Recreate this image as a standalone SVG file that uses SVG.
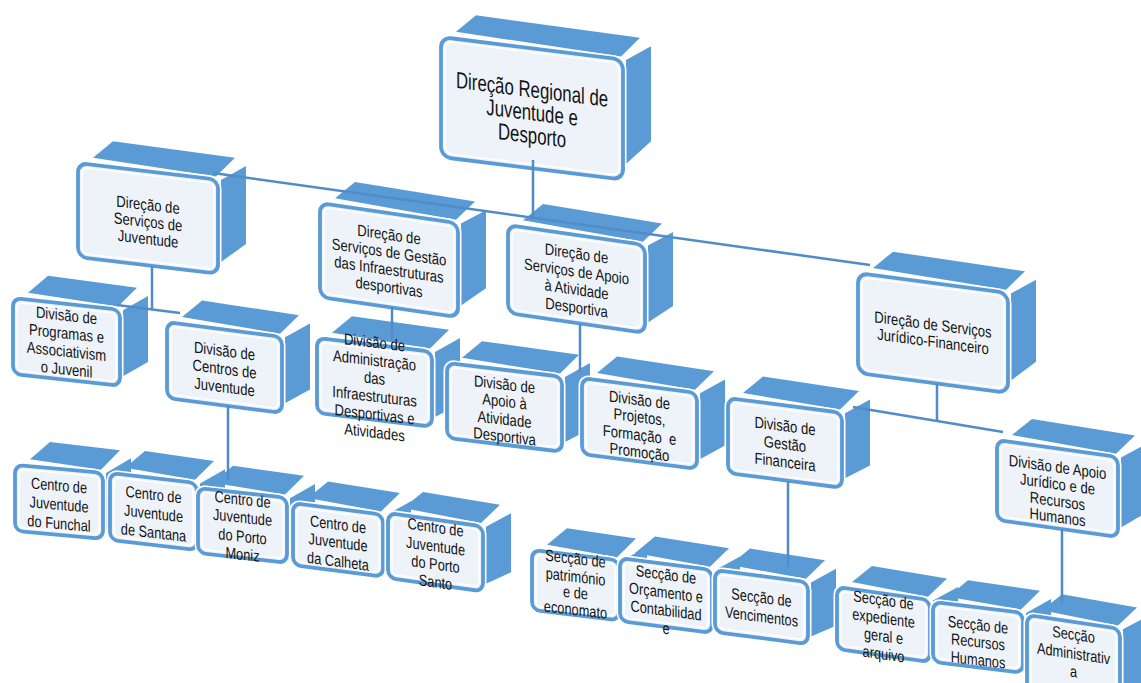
<svg xmlns="http://www.w3.org/2000/svg" width="1141" height="683" viewBox="0 0 1141 683">
<style>
.side{fill:#5b9bd5}
.halo{fill:#fff;stroke:#fff;stroke-width:7}
.face{fill:#eef3fa;stroke:#5b9bd5;stroke-width:3.8}
.inner{fill:none;stroke:#fff;stroke-width:1.5}
.t{font-family:"Liberation Sans",Arial,sans-serif;font-size:16px;fill:#141414;text-anchor:middle}
.big{font-size:23px}
.conn{stroke:#4f8cc8;stroke-width:2.5;fill:none}
</style>
<rect width="1141" height="683" fill="#fff"/>

<g id="n-root" transform="translate(441 37) skewY(7.1)">
<path class="side" d="M15,-7L35,-26L199,-24L180,-3Z"/><path class="side" d="M185,0L210,-17L210,78L185,104Z"/>
<rect class="halo" width="182" height="120" rx="10"/><rect class="face" width="182" height="120" rx="10"/><rect class="inner" x="4" y="4" width="174" height="112" rx="7"/>
<g transform="translate(91 0) scale(.73 1)"><text class="t big"><tspan x="0" y="49">Direção Regional de</tspan><tspan x="0" y="72">Juventude e</tspan><tspan x="0" y="95">Desporto</tspan></text></g>
</g>

<g id="n-dsj" transform="translate(78 163) skewY(6.8)">
<path class="side" d="M15,-7L35,-26L157,-24L138,-3Z"/><path class="side" d="M143,0L168,-17L168,61L143,82Z"/>
<rect class="halo" width="140" height="94" rx="9"/><rect class="face" width="140" height="94" rx="9"/><rect class="inner" x="4" y="4" width="132" height="86" rx="6"/>
<g transform="translate(70 0) scale(.82 1)"><text class="t"><tspan x="0" y="39">Direção de</tspan><tspan x="0" y="56">Serviços de</tspan><tspan x="0" y="73">Juventude</tspan></text></g>
</g>

<g id="n-dsg" transform="translate(320 203) skewY(8.3)">
<path class="side" d="M15,-7L35,-26L155,-24L136,-3Z"/><path class="side" d="M141,0L166,-17L166,61L141,82Z"/>
<rect class="halo" width="138" height="94" rx="9"/><rect class="face" width="138" height="94" rx="9"/><rect class="inner" x="4" y="4" width="130" height="86" rx="6"/>
<g transform="translate(69 0) scale(.82 1)"><text class="t"><tspan x="0" y="27">Direção de</tspan><tspan x="0" y="44.5">Serviços de Gestão</tspan><tspan x="0" y="62">das Infraestruturas</tspan><tspan x="0" y="79.5">desportivas</tspan></text></g>
</g>

<g id="n-dsa" transform="translate(508 225) skewY(8.3)">
<path class="side" d="M15,-7L35,-26L154,-24L135,-3Z"/><path class="side" d="M140,0L165,-17L165,57L140,77Z"/>
<rect class="halo" width="137" height="88" rx="9"/><rect class="face" width="137" height="88" rx="9"/><rect class="inner" x="4" y="4" width="129" height="80" rx="6"/>
<g transform="translate(68.5 0) scale(.82 1)"><text class="t"><tspan x="0" y="24">Direção de</tspan><tspan x="0" y="42">Serviços de Apoio</tspan><tspan x="0" y="60">à Atividade</tspan><tspan x="0" y="78">Desportiva</tspan></text></g>
</g>

<g id="n-dsjf" transform="translate(858 273) skewY(7.6)">
<path class="side" d="M15,-7L35,-26L167,-24L148,-3Z"/><path class="side" d="M153,0L178,-17L178,65L153,87Z"/>
<rect class="halo" width="150" height="100" rx="10"/><rect class="face" width="150" height="100" rx="10"/><rect class="inner" x="4" y="4" width="142" height="92" rx="7"/>
<g transform="translate(75 0) scale(.82 1)"><text class="t"><tspan x="0" y="47">Direção de Serviços</tspan><tspan x="0" y="64">Jurídico-Financeiro</tspan></text></g>
</g>

<g id="n-prog" transform="translate(13 298) skewY(6.3)">
<path class="side" d="M15,-7L35,-26L124,-24L105,-3Z"/><path class="side" d="M110,0L135,-17L135,49L110,66Z"/>
<rect class="halo" width="107" height="76" rx="8"/><rect class="face" width="107" height="76" rx="8"/><rect class="inner" x="4" y="4" width="99" height="68" rx="5"/>
<g transform="translate(53.5 0) scale(.82 1)"><text class="t"><tspan x="0" y="17">Divisão de</tspan><tspan x="0" y="35">Programas e</tspan><tspan x="0" y="53">Associativism</tspan><tspan x="0" y="71">o Juvenil</tspan></text></g>
</g>

<g id="n-divcentros" transform="translate(167 322) skewY(7.4)">
<path class="side" d="M15,-7L35,-26L132,-24L113,-3Z"/><path class="side" d="M118,0L143,-17L143,49L118,66Z"/>
<rect class="halo" width="115" height="76" rx="8"/><rect class="face" width="115" height="76" rx="8"/><rect class="inner" x="4" y="4" width="107" height="68" rx="5"/>
<g transform="translate(57.5 0) scale(.82 1)"><text class="t"><tspan x="0" y="27">Divisão de</tspan><tspan x="0" y="45">Centros de</tspan><tspan x="0" y="63">Juventude</tspan></text></g>
</g>

<g id="n-adm" transform="translate(317 338) skewY(6.8)">
<path class="side" d="M15,-7L35,-26L132,-24L113,-3Z"/><path class="side" d="M118,0L143,-17L143,49L118,65Z"/>
<rect class="halo" width="115" height="75" rx="8"/><rect class="face" width="115" height="75" rx="8"/><rect class="inner" x="4" y="4" width="107" height="67" rx="5"/>
<g transform="translate(57.5 0) scale(.82 1)"><text class="t"><tspan x="0" y="3">Divisão de</tspan><tspan x="0" y="21">Administração</tspan><tspan x="0" y="39">das</tspan><tspan x="0" y="57">Infraestruturas</tspan><tspan x="0" y="75">Desportivas e</tspan><tspan x="0" y="93">Atividades</tspan></text></g>
</g>

<g id="n-apoiodiv" transform="translate(447 363) skewY(6.8)">
<path class="side" d="M15,-7L35,-26L132,-24L113,-3Z"/><path class="side" d="M118,0L143,-17L143,49L118,65Z"/>
<rect class="halo" width="115" height="75" rx="8"/><rect class="face" width="115" height="75" rx="8"/><rect class="inner" x="4" y="4" width="107" height="67" rx="5"/>
<g transform="translate(57.5 0) scale(.82 1)"><text class="t"><tspan x="0" y="20">Divisão de</tspan><tspan x="0" y="37">Apoio à</tspan><tspan x="0" y="55">Atividade</tspan><tspan x="0" y="72">Desportiva</tspan></text></g>
</g>

<g id="n-proj" transform="translate(582 378) skewY(7.4)">
<path class="side" d="M15,-7L35,-26L132,-24L113,-3Z"/><path class="side" d="M118,0L143,-17L143,49L118,66Z"/>
<rect class="halo" width="115" height="76" rx="8"/><rect class="face" width="115" height="76" rx="8"/><rect class="inner" x="4" y="4" width="107" height="68" rx="5"/>
<g transform="translate(57.5 0) scale(.82 1)"><text class="t"><tspan x="0" y="20">Divisão de</tspan><tspan x="0" y="37">Projetos,</tspan><tspan x="0" y="55">Formação&#160; e</tspan><tspan x="0" y="72">Promoção</tspan></text></g>
</g>

<g id="n-gestfin" transform="translate(728 398) skewY(7.4)">
<path class="side" d="M15,-7L35,-26L131,-24L112,-3Z"/><path class="side" d="M117,0L142,-17L142,49L117,65Z"/>
<rect class="halo" width="114" height="75" rx="8"/><rect class="face" width="114" height="75" rx="8"/><rect class="inner" x="4" y="4" width="106" height="67" rx="5"/>
<g transform="translate(57 0) scale(.82 1)"><text class="t"><tspan x="0" y="26">Divisão de</tspan><tspan x="0" y="44">Gestão</tspan><tspan x="0" y="62">Financeira</tspan></text></g>
</g>

<g id="n-apoiojur" transform="translate(997 440) skewY(8)">
<path class="side" d="M15,-7L35,-26L138,-24L119,-3Z"/><path class="side" d="M124,0L149,-17L149,52L124,70Z"/>
<rect class="halo" width="121" height="80" rx="8"/><rect class="face" width="121" height="80" rx="8"/><rect class="inner" x="4" y="4" width="113" height="72" rx="5"/>
<g transform="translate(60.5 0) scale(.82 1)"><text class="t"><tspan x="0" y="24">Divisão de Apoio</tspan><tspan x="0" y="41">Jurídico e de</tspan><tspan x="0" y="58">Recursos</tspan><tspan x="0" y="74">Humanos</tspan></text></g>
</g>

<g id="n-funchal" transform="translate(15 465) skewY(5.1)">
<path class="side" d="M15,-7L35,-26L105,-24L86,-3Z"/><path class="side" d="M91,0L116,-17L116,43L91,57Z"/>
<rect class="halo" width="88" height="66" rx="8"/><rect class="face" width="88" height="66" rx="8"/><rect class="inner" x="4" y="4" width="80" height="58" rx="5"/>
<g transform="translate(44 0) scale(.8 1)"><text class="t"><tspan x="0" y="22">Centro de</tspan><tspan x="0" y="41">Juventude</tspan><tspan x="0" y="60">do Funchal</tspan></text></g>
</g>

<g id="n-santana" transform="translate(110 473) skewY(6.6)">
<path class="side" d="M15,-7L35,-26L104,-24L85,-3Z"/><path class="side" d="M90,0L115,-17L115,44L90,58Z"/>
<rect class="halo" width="87" height="67" rx="8"/><rect class="face" width="87" height="67" rx="8"/><rect class="inner" x="4" y="4" width="79" height="59" rx="5"/>
<g transform="translate(43.5 0) scale(.8 1)"><text class="t"><tspan x="0" y="22">Centro de</tspan><tspan x="0" y="41">Juventude</tspan><tspan x="0" y="60">de Santana</tspan></text></g>
</g>

<g id="n-moniz" transform="translate(198 488) skewY(6.3)">
<path class="side" d="M15,-7L35,-26L106,-24L87,-3Z"/><path class="side" d="M92,0L117,-17L117,42L92,57Z"/>
<rect class="halo" width="89" height="65" rx="8"/><rect class="face" width="89" height="65" rx="8"/><rect class="inner" x="4" y="4" width="81" height="57" rx="5"/>
<g transform="translate(44.5 0) scale(.8 1)"><text class="t"><tspan x="0" y="12">Centro de</tspan><tspan x="0" y="30">Juventude</tspan><tspan x="0" y="49">do Porto</tspan><tspan x="0" y="67">Moniz</tspan></text></g>
</g>

<g id="n-calheta" transform="translate(293 503) skewY(7.4)">
<path class="side" d="M15,-7L35,-26L107,-24L88,-3Z"/><path class="side" d="M93,0L118,-17L118,40L93,54Z"/>
<rect class="halo" width="90" height="62" rx="8"/><rect class="face" width="90" height="62" rx="8"/><rect class="inner" x="4" y="4" width="82" height="54" rx="5"/>
<g transform="translate(45 0) scale(.8 1)"><text class="t"><tspan x="0" y="21">Centro de</tspan><tspan x="0" y="39">Juventude</tspan><tspan x="0" y="58">da Calheta</tspan></text></g>
</g>

<g id="n-santo" transform="translate(388 513) skewY(8)">
<path class="side" d="M15,-7L35,-26L112,-24L93,-3Z"/><path class="side" d="M98,0L123,-17L123,42L98,57Z"/>
<rect class="halo" width="95" height="65" rx="8"/><rect class="face" width="95" height="65" rx="8"/><rect class="inner" x="4" y="4" width="87" height="57" rx="5"/>
<g transform="translate(47.5 0) scale(.8 1)"><text class="t"><tspan x="0" y="13">Centro de</tspan><tspan x="0" y="32">Juventude</tspan><tspan x="0" y="50">do Porto</tspan><tspan x="0" y="68">Santo</tspan></text></g>
</g>

<g id="n-patr" transform="translate(532 550) skewY(6.8)">
<path class="side" d="M15,-7L35,-26L104,-24L85,-3Z"/><path class="side" d="M90,0L115,-17L115,39L90,52Z"/>
<rect class="halo" width="87" height="60" rx="8"/><rect class="face" width="87" height="60" rx="8"/><rect class="inner" x="4" y="4" width="79" height="52" rx="5"/>
<g transform="translate(43.5 0) scale(.8 1)"><text class="t"><tspan x="0" y="9">Secção de</tspan><tspan x="0" y="27">património</tspan><tspan x="0" y="43">e de</tspan><tspan x="0" y="60">economato</tspan></text></g>
</g>

<g id="n-orc" transform="translate(620 558) skewY(7.4)">
<path class="side" d="M15,-7L35,-26L109,-24L90,-3Z"/><path class="side" d="M95,0L120,-17L120,41L95,55Z"/>
<rect class="halo" width="92" height="63" rx="8"/><rect class="face" width="92" height="63" rx="8"/><rect class="inner" x="4" y="4" width="84" height="55" rx="5"/>
<g transform="translate(46 0) scale(.8 1)"><text class="t"><tspan x="0" y="16">Secção de</tspan><tspan x="0" y="34">Orçamento e</tspan><tspan x="0" y="52">Contabilidad</tspan><tspan x="0" y="70">e</tspan></text></g>
</g>

<g id="n-venc" transform="translate(715 570) skewY(7.4)">
<path class="side" d="M15,-7L35,-26L110,-24L91,-3Z"/><path class="side" d="M96,0L121,-17L121,40L96,54Z"/>
<rect class="halo" width="93" height="62" rx="8"/><rect class="face" width="93" height="62" rx="8"/><rect class="inner" x="4" y="4" width="85" height="54" rx="5"/>
<g transform="translate(46.5 0) scale(.8 1)"><text class="t"><tspan x="0" y="27">Secção de</tspan><tspan x="0" y="46">Vencimentos</tspan></text></g>
</g>

<g id="n-exped" transform="translate(837 587) skewY(8)">
<path class="side" d="M15,-7L35,-26L110,-24L91,-3Z"/><path class="side" d="M96,0L121,-17L121,40L96,54Z"/>
<rect class="halo" width="93" height="62" rx="8"/><rect class="face" width="93" height="62" rx="8"/><rect class="inner" x="4" y="4" width="85" height="54" rx="5"/>
<g transform="translate(46.5 0) scale(.8 1)"><text class="t"><tspan x="0" y="12">Secção de</tspan><tspan x="0" y="30">expediente</tspan><tspan x="0" y="48">geral e</tspan><tspan x="0" y="66">arquivo</tspan></text></g>
</g>

<g id="n-rechum" transform="translate(933 602) skewY(6.8)">
<path class="side" d="M15,-7L35,-26L107,-24L88,-3Z"/><path class="side" d="M93,0L118,-17L118,39L93,52Z"/>
<rect class="halo" width="90" height="60" rx="8"/><rect class="face" width="90" height="60" rx="8"/><rect class="inner" x="4" y="4" width="82" height="52" rx="5"/>
<g transform="translate(45 0) scale(.8 1)"><text class="t"><tspan x="0" y="23">Secção de</tspan><tspan x="0" y="40">Recursos</tspan><tspan x="0" y="58">Humanos</tspan></text></g>
</g>

<g id="n-admin" transform="translate(1027 615) skewY(8.5)">
<path class="side" d="M15,-7L35,-26L110,-24L91,-3Z"/><path class="side" d="M96,0L121,-17L121,49L96,65Z"/>
<rect class="halo" width="93" height="75" rx="8"/><rect class="face" width="93" height="75" rx="8"/><rect class="inner" x="4" y="4" width="85" height="67" rx="5"/>
<g transform="translate(46.5 0) scale(.8 1)"><text class="t"><tspan x="0" y="18">Secção</tspan><tspan x="0" y="37">Administrativ</tspan><tspan x="0" y="55">a</tspan></text></g>
</g>

<g id="connectors" class="conn">
<line x1="533" y1="160" x2="533" y2="218"/>
<line x1="213" y1="173" x2="870" y2="265"/>
<line x1="152" y1="266" x2="152" y2="309"/>
<line x1="117" y1="305" x2="180" y2="313"/>
<line x1="228" y1="406" x2="228" y2="480"/>
<line x1="392" y1="307" x2="392" y2="340"/>
<line x1="580" y1="324" x2="580" y2="372"/>
<line x1="937" y1="384" x2="937" y2="421"/>
<line x1="853" y1="407" x2="1003" y2="432"/>
<line x1="788" y1="481" x2="788" y2="567"/>
<line x1="1062" y1="529" x2="1062" y2="603"/>
</g>
</svg>
